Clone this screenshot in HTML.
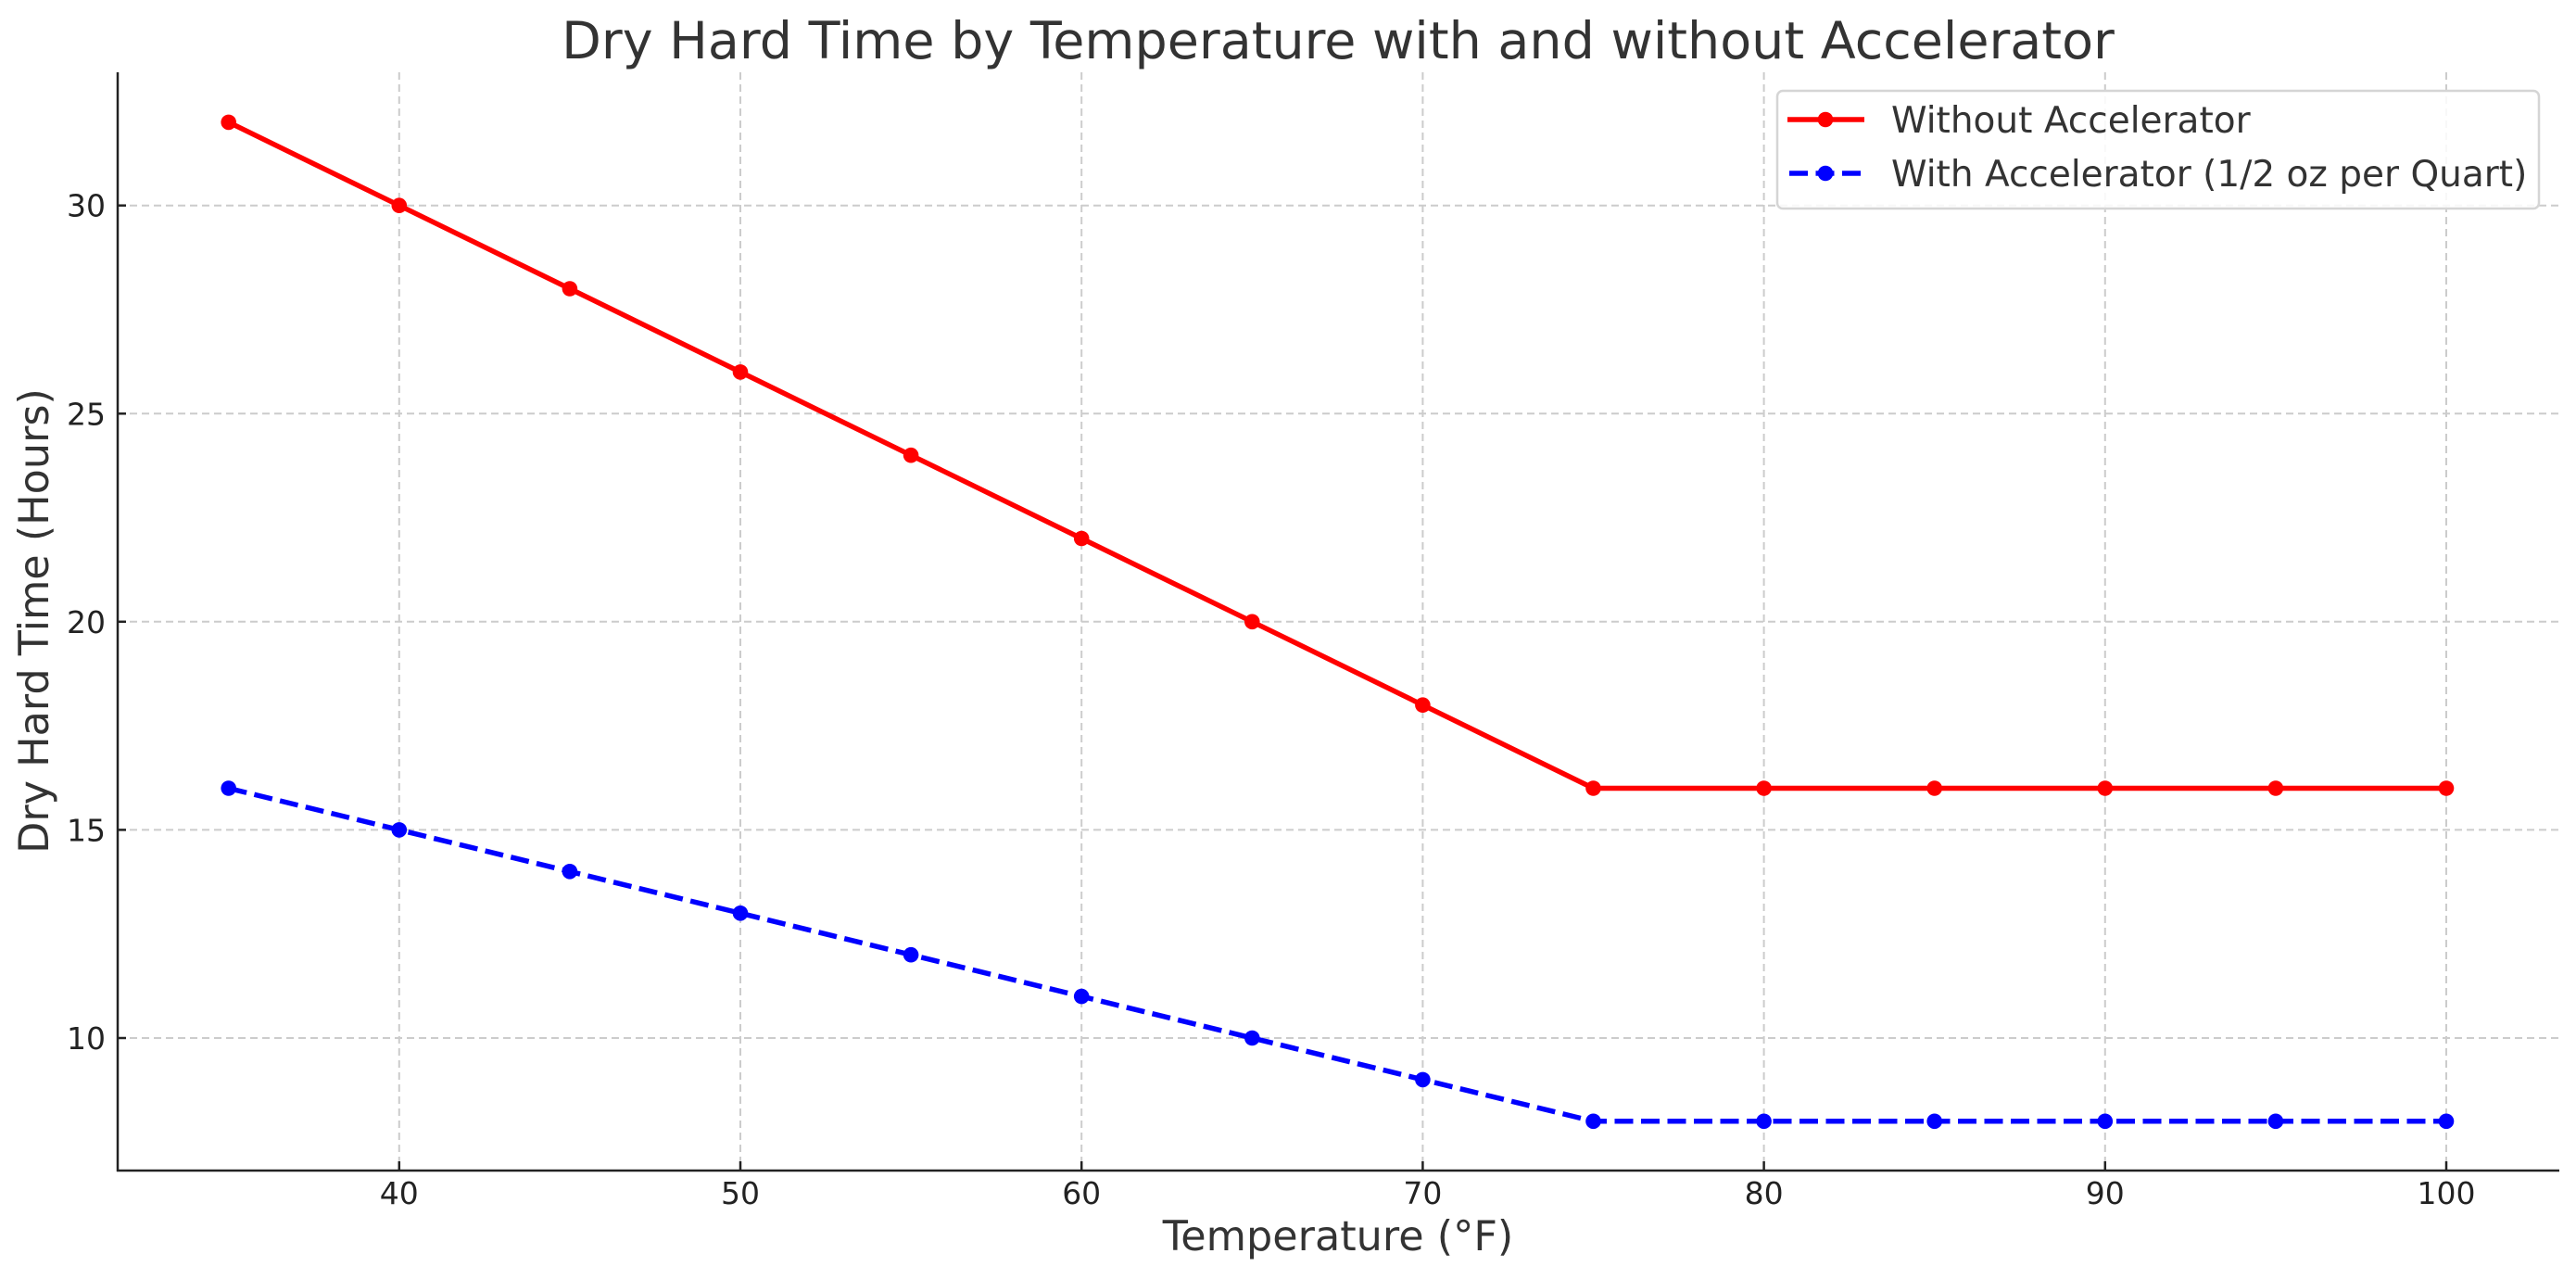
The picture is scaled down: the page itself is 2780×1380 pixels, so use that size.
<!DOCTYPE html>
<html><head><meta charset="utf-8"><style>html,body{margin:0;padding:0;background:#fff}svg{display:block}</style></head>
<body>
<svg width="2780" height="1380" viewBox="0 0 2780 1380" xmlns="http://www.w3.org/2000/svg" font-family="DejaVu Sans, Liberation Sans, sans-serif">
<rect width="2780" height="1380" fill="#fff"/>
<g stroke="#cccccc" stroke-width="2" stroke-dasharray="8,5" fill="none">
<line x1="430.8" y1="78" x2="430.8" y2="1263"/>
<line x1="799" y1="78" x2="799" y2="1263"/>
<line x1="1167.2" y1="78" x2="1167.2" y2="1263"/>
<line x1="1535.4" y1="78" x2="1535.4" y2="1263"/>
<line x1="1903.6" y1="78" x2="1903.6" y2="1263"/>
<line x1="2271.8" y1="78" x2="2271.8" y2="1263"/>
<line x1="2640" y1="78" x2="2640" y2="1263"/>
<line x1="127" y1="1120" x2="2762" y2="1120"/>
<line x1="127" y1="895.4" x2="2762" y2="895.4"/>
<line x1="127" y1="670.8" x2="2762" y2="670.8"/>
<line x1="127" y1="446.3" x2="2762" y2="446.3"/>
<line x1="127" y1="221.7" x2="2762" y2="221.7"/>
</g>
<g stroke="#222" stroke-width="2.5">
<line x1="127" y1="78" x2="127" y2="1264"/>
<line x1="126" y1="1263" x2="2762" y2="1263"/>
<line x1="430.8" y1="1263" x2="430.8" y2="1253"/>
<line x1="799" y1="1263" x2="799" y2="1253"/>
<line x1="1167.2" y1="1263" x2="1167.2" y2="1253"/>
<line x1="1535.4" y1="1263" x2="1535.4" y2="1253"/>
<line x1="1903.6" y1="1263" x2="1903.6" y2="1253"/>
<line x1="2271.8" y1="1263" x2="2271.8" y2="1253"/>
<line x1="2640" y1="1263" x2="2640" y2="1253"/>
<line x1="127" y1="1120" x2="136" y2="1120"/>
<line x1="127" y1="895.4" x2="136" y2="895.4"/>
<line x1="127" y1="670.8" x2="136" y2="670.8"/>
<line x1="127" y1="446.3" x2="136" y2="446.3"/>
<line x1="127" y1="221.7" x2="136" y2="221.7"/>
</g>
<g fill="#222" font-size="33" text-anchor="middle">
<text x="430.8" y="1299">40</text>
<text x="799" y="1299">50</text>
<text x="1167.2" y="1299">60</text>
<text x="1535.4" y="1299">70</text>
<text x="1903.6" y="1299">80</text>
<text x="2271.8" y="1299">90</text>
<text x="2640" y="1299">100</text>
</g>
<g fill="#222" font-size="33" text-anchor="end">
<text x="114" y="1132">10</text>
<text x="114" y="907.4">15</text>
<text x="114" y="682.8">20</text>
<text x="114" y="458.3">25</text>
<text x="114" y="233.7">30</text>
</g>
<text x="1444" y="1349" font-size="44.5" fill="#333" text-anchor="middle">Temperature (°F)</text>
<text transform="translate(52,670) rotate(-90)" font-size="44.5" fill="#333" text-anchor="middle">Dry Hard Time (Hours)</text>
<text x="1444" y="63" font-size="55.5" fill="#333" text-anchor="middle">Dry Hard Time by Temperature with and without Accelerator</text>
<polyline fill="none" stroke="#ff0000" stroke-width="5.5" stroke-linejoin="round" points="246.7,131.9 430.8,221.7 614.9,311.5 799,401.4 983.1,491.2 1167.2,581 1351.3,670.8 1535.4,760.7 1719.5,850.5 1903.6,850.5 2087.7,850.5 2271.8,850.5 2455.9,850.5 2640,850.5"/>
<g fill="#ff0000">
<circle cx="246.7" cy="131.9" r="8.3"/><circle cx="430.8" cy="221.7" r="8.3"/><circle cx="614.9" cy="311.5" r="8.3"/><circle cx="799" cy="401.4" r="8.3"/><circle cx="983.1" cy="491.2" r="8.3"/><circle cx="1167.2" cy="581" r="8.3"/><circle cx="1351.3" cy="670.8" r="8.3"/><circle cx="1535.4" cy="760.7" r="8.3"/><circle cx="1719.5" cy="850.5" r="8.3"/><circle cx="1903.6" cy="850.5" r="8.3"/><circle cx="2087.7" cy="850.5" r="8.3"/><circle cx="2271.8" cy="850.5" r="8.3"/><circle cx="2455.9" cy="850.5" r="8.3"/><circle cx="2640" cy="850.5" r="8.3"/>
</g>
<polyline fill="none" stroke="#0000ff" stroke-width="5.5" stroke-dasharray="20,8.5" points="246.7,850.5 430.8,895.4 614.9,940.3 799,985.3 983.1,1030.2 1167.2,1075.1 1351.3,1120 1535.4,1164.9 1719.5,1209.8 1903.6,1209.8 2087.7,1209.8 2271.8,1209.8 2455.9,1209.8 2640,1209.8"/>
<g fill="#0000ff">
<circle cx="246.7" cy="850.5" r="8.3"/><circle cx="430.8" cy="895.4" r="8.3"/><circle cx="614.9" cy="940.3" r="8.3"/><circle cx="799" cy="985.3" r="8.3"/><circle cx="983.1" cy="1030.2" r="8.3"/><circle cx="1167.2" cy="1075.1" r="8.3"/><circle cx="1351.3" cy="1120" r="8.3"/><circle cx="1535.4" cy="1164.9" r="8.3"/><circle cx="1719.5" cy="1209.8" r="8.3"/><circle cx="1903.6" cy="1209.8" r="8.3"/><circle cx="2087.7" cy="1209.8" r="8.3"/><circle cx="2271.8" cy="1209.8" r="8.3"/><circle cx="2455.9" cy="1209.8" r="8.3"/><circle cx="2640" cy="1209.8" r="8.3"/>
</g>
<rect x="1918" y="98" width="822" height="127" rx="6" fill="#fff" fill-opacity="0.85" stroke="#d5d5d5" stroke-width="2.5"/>
<line x1="1929" y1="129" x2="2012" y2="129" stroke="#ff0000" stroke-width="5.5"/>
<circle cx="1970" cy="129" r="8.3" fill="#ff0000"/>
<line x1="1931" y1="187" x2="2012" y2="187" stroke="#0000ff" stroke-width="5.5" stroke-dasharray="20,8.5"/>
<circle cx="1970" cy="187" r="8.3" fill="#0000ff"/>
<g fill="#333" font-size="39">
<text x="2041" y="143">Without Accelerator</text>
<text x="2041" y="201">With Accelerator (1/2 oz per Quart)</text>
</g>
</svg>
</body></html>
